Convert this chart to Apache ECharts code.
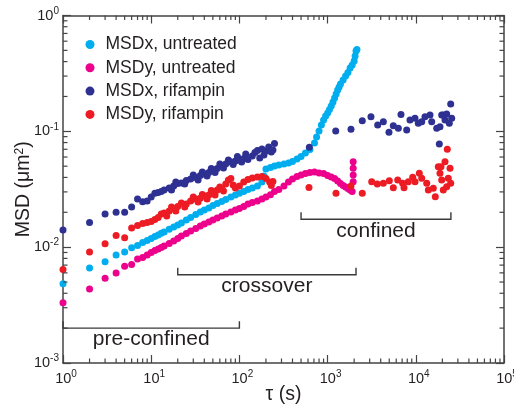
<!DOCTYPE html>
<html><head><meta charset="utf-8">
<script src="https://cdn.jsdelivr.net/npm/echarts@6/dist/echarts.min.js"></script>
<style>html,body{margin:0;padding:0;background:#fff}#c{width:514px;height:411px}</style>
</head><body><div id="c"></div>
<script>
// ---- data (tau in s, MSD in um^2) ----
const seriesNames = ['MSDx, untreated', 'MSDy, untreated', 'MSDx, rifampin', 'MSDy, rifampin'];

const tauXUntreated = [1,2,3,4,5,6,7,8,9,10,11,12,13,14,16,18,20,22,25,28,32,36,40,45,50,56,63,70,80,90,100,112,125,140,160,180,190,200,225,250,280,320,360,400,450,500,560,630,710,750,800,850,900,950,1000,1050,1100,1150,1200,1250,1300,1350,1400,1500,1600,1700,1800,1900,2000,2050,2100,2150];
const msdXUntreated = [0.00483,0.0066,0.00748,0.00855,0.00907,0.00988,0.01033,0.01096,0.0114,0.01186,0.01235,0.01273,0.01316,0.0135,0.01425,0.01492,0.01552,0.01615,0.01714,0.01802,0.01913,0.0201,0.0209,0.02178,0.02287,0.02381,0.02477,0.02578,0.02708,0.02818,0.02915,0.0302,0.0314,0.0324,0.0337,0.0365,0.0411,0.0472,0.0487,0.0501,0.0512,0.0522,0.0532,0.0548,0.0577,0.0606,0.065,0.0697,0.0793,0.0893,0.1007,0.1133,0.1253,0.1356,0.1439,0.1543,0.1653,0.1791,0.194,0.21,0.2275,0.2414,0.256,0.2773,0.3005,0.322,0.352,0.374,0.405,0.447,0.494,0.508];

const tauYUntreated = [1,2,3,4,5,6,7,8,9,10,11,12,13,14,16,18,20,22,25,28,32,36,40,45,50,56,63,70,80,90,100,112,125,140,160,180,200,225,250,280,320,360,400,450,500,560,630,710,800,900,1000,1100,1200,1300,1400,1500,1600,1700,1800,1900,1950,1950,1950,1950];
const msdYUntreated = [0.00331,0.00435,0.00538,0.00598,0.00683,0.00708,0.00789,0.00813,0.00855,0.00898,0.00935,0.00964,0.00993,0.01023,0.01075,0.01129,0.01186,0.01247,0.0131,0.01377,0.01449,0.01521,0.01584,0.01648,0.01714,0.01783,0.01857,0.01931,0.0201,0.0209,0.02162,0.02243,0.02355,0.02428,0.025,0.026,0.0271,0.0284,0.0302,0.0314,0.0337,0.0365,0.0387,0.0407,0.042,0.0432,0.0441,0.0445,0.0436,0.0432,0.0415,0.0403,0.0391,0.0372,0.0354,0.034,0.033,0.0321,0.0311,0.0302,0.0546,0.0479,0.042,0.0367];

const tauXRifampin = [1,2,3,4,5,6,7,8,9,10,11,12,13,14,16,17,18,19,20,22,24,25,28,30,32,34,36,38,40,43,45,48,50,53,56,60,63,66,70,75,80,85,90,95,100,106,112,118,125,140,150,160,170,180,190,200,215,230,240,250,
  621,1236,1842,2473,3102,3698,4285,4966,5560,6337,6795,7884,8590,9795,10670,11670,12710,14490,15150,17260,18480,18800,19660,20500,21430,22400,23990,24870,25530];
const msdXRifampin = [0.01405,0.0163,0.01931,0.02,0.02,0.0222,0.026,0.0247,0.025,0.0271,0.0292,0.0296,0.0302,0.0311,0.0324,0.0311,0.0337,0.0365,0.0354,0.0358,0.0351,0.0376,0.0387,0.042,0.0399,0.038,0.0415,0.0445,0.0428,0.0411,0.0441,0.0477,0.0463,0.0441,0.0477,0.0522,0.0501,0.0482,0.0522,0.0565,0.0543,0.0516,0.0554,0.0606,0.0565,0.0543,0.0582,0.0637,0.0571,0.0612,0.0656,0.0682,0.0588,0.0703,0.0624,0.0676,0.0731,0.0662,0.069,0.0785,
  0.0728,0.1006,0.104,0.1235,0.1337,0.1133,0.1211,0.098,0.1117,0.1061,0.14,0.1026,0.1252,0.1295,0.1173,0.1211,0.1337,0.1383,0.1211,0.1061,0.0777,0.1096,0.1383,0.1383,0.1252,0.141,0.1173,0.172,0.1295];

const tauYRifampin = [1,2,3,4,5,6,7,8,9,10,11,12,13,14,15,16,17,18,19,20,22,24,25,28,30,32,34,36,38,40,43,45,48,50,53,56,60,63,66,70,75,80,85,90,100,112,125,140,160,180,200,220,230,240,
  615,1245,1842,2473,3162,3661,4285,5010,5560,6234,7100,7350,8224,9225,9795,10960,11670,13300,13870,15790,16640,17990,18800,19300,19660,20500,21430,22400,22760,23350,24430,24870];
const msdYRifampin = [0.00643,0.00907,0.0107,0.01259,0.01205,0.01462,0.01538,0.016,0.01631,0.01663,0.0173,0.01802,0.01931,0.01971,0.01857,0.02051,0.0222,0.02153,0.0205,0.02243,0.02402,0.0222,0.02355,0.025,0.0271,0.026,0.0245,0.0265,0.0285,0.0276,0.026,0.0282,0.0308,0.0299,0.0282,0.0311,0.033,0.0321,0.0305,0.0351,0.038,0.0391,0.0344,0.0324,0.0337,0.0365,0.0384,0.0395,0.0403,0.0407,0.0391,0.0365,0.034,0.0369,
  0.0328,0.0292,0.0337,0.0292,0.0367,0.0351,0.0356,0.0374,0.0326,0.038,0.0356,0.0326,0.0367,0.0401,0.0367,0.0434,0.0393,0.0356,0.0311,0.0322,0.0272,0.0494,0.0434,0.0494,0.038,0.0311,0.0546,0.0332,0.07,0.0393,0.0479,0.0356];

// axis minor tick values
const xMinorTicks = [2,3,4,5,6,7,8,9,20,30,40,50,60,70,80,90,200,300,400,500,600,700,800,900,2000,3000,4000,5000,6000,7000,8000,9000,20000,30000,40000,50000,60000,70000,80000,90000];
const yMinorTicks = [0.002,0.003,0.004,0.005,0.006,0.007,0.008,0.009,0.02,0.03,0.04,0.05,0.06,0.07,0.08,0.09,0.2,0.3,0.4,0.5,0.6,0.7,0.8,0.9];

// regime annotations: [tau start, tau end, MSD level]
const regimeRanges = [[1,100,0.002],[20,2100,0.00578],[500,25000,0.0174]];
const regimeLabels = ['pre-confined','crossover','confined'];

// ---- chart ----
const FONT = "'Liberation Sans', Arial, Helvetica, sans-serif";
const INK = '#231f20';
const FRAME = '#444';
const colors = ['#00AEEF', '#EC008C', '#2E3192', '#ED1C24'];

function pairs(a, b) { return a.map((t, i) => [t, b[i]]); }
function powLabel(v) {
  const e = Math.round(Math.log10(v));
  return '{b|10}{s|' + e + '}';
}
const richLabel = {
  b: { fontSize: 14.5, fontFamily: FONT, color: INK },
  s: { fontSize: 10, fontFamily: FONT, color: INK, padding: [0, 0, 9, 0] }
};
const richLabelX = {
  b: { fontSize: 14.5, fontFamily: FONT, color: INK, padding: [0, 0, 0, 6] },
  s: { fontSize: 10, fontFamily: FONT, color: INK, padding: [0, 0, 9, 0] }
};

function frameAxis(extra) {
  return Object.assign({
    type: 'log', logBase: 10,
    axisLine: { show: true, onZero: false, lineStyle: { color: FRAME, width: 1.5 } },
    axisTick: { show: true, inside: true, length: 8, lineStyle: { color: FRAME, width: 1.2 } },
    splitLine: { show: false },
    minorTick: { show: false }
  }, extra);
}

const chart = echarts.init(document.getElementById('c'), null, { renderer: 'canvas' });

const scatterSeries = [
  [tauXUntreated, msdXUntreated],
  [tauYUntreated, msdYUntreated],
  [tauXRifampin, msdXRifampin],
  [tauYRifampin, msdYRifampin]
].map((d, i) => ({
  type: 'scatter', name: seriesNames[i], data: pairs(d[0], d[1]),
  symbol: 'circle', symbolSize: 7, clip: false, z: 2 + i,
  itemStyle: { color: colors[i], opacity: 1 },
  emphasis: { disabled: true }
}));

const tickStyle = { stroke: FRAME, lineWidth: 1.2 };
const minorLen = 4.5;

const option = {
  animation: false,
  backgroundColor: '#fff',
  textStyle: { fontFamily: FONT },
  grid: { left: 63, right: 10, top: 15.5, bottom: 48, containLabel: false, outerBoundsMode: 'none' },
  legend: {
    data: seriesNames, orient: 'vertical', left: 80.5, top: 30.5,
    itemWidth: 9, itemHeight: 9, itemGap: 5.3, icon: 'circle', selectedMode: false,
    textStyle: { fontSize: 17.5, color: INK, fontFamily: FONT, padding: [0, 0, 0, 6], lineHeight: 18 }
  },
  xAxis: [
    frameAxis({
      position: 'bottom', min: 1, max: 100000,
      axisLabel: { formatter: powLabel, rich: richLabelX, margin: 6 },
      name: 'τ (s)', nameLocation: 'middle', nameGap: 22, nameMoveOverlap: false,
      nameTextStyle: { fontSize: 19.5, color: INK, fontFamily: FONT }
    }),
    frameAxis({ position: 'top', min: 1, max: 100000, axisLabel: { show: false } })
  ],
  yAxis: [
    frameAxis({
      position: 'left', min: 0.001, max: 1,
      axisLabel: { formatter: powLabel, rich: richLabel, margin: 4 },
      name: 'MSD (μm{s|2})', nameLocation: 'middle', nameGap: 29, nameMoveOverlap: false,
      nameTextStyle: { fontSize: 19.5, color: INK, fontFamily: FONT,
        rich: { s: { fontSize: 12, fontFamily: FONT, color: INK, padding: [0, 0, 8, 0] } } }
    }),
    frameAxis({ position: 'right', min: 0.001, max: 1, axisLabel: { show: false } })
  ],
  series: [
    ...scatterSeries,
    {
      type: 'custom', name: 'xMinor', silent: true, z: 10, clip: false,
      data: xMinorTicks.map(v => [v, 0.01]),
      renderItem(params, api) {
        const cs = params.coordSys;
        const x = api.coord([api.value(0), api.value(1)])[0];
        const b = cs.y + cs.height, t = cs.y;
        return { type: 'group', children: [
          { type: 'line', shape: { x1: x, y1: b, x2: x, y2: b - minorLen }, style: tickStyle },
          { type: 'line', shape: { x1: x, y1: t, x2: x, y2: t + minorLen }, style: tickStyle }
        ] };
      }
    },
    {
      type: 'custom', name: 'yMinor', silent: true, z: 10, clip: false,
      data: yMinorTicks.map(v => [10, v]),
      renderItem(params, api) {
        const cs = params.coordSys;
        const y = api.coord([api.value(0), api.value(1)])[1];
        const l = cs.x, r = cs.x + cs.width;
        return { type: 'group', children: [
          { type: 'line', shape: { x1: l, y1: y, x2: l + minorLen, y2: y }, style: tickStyle },
          { type: 'line', shape: { x1: r, y1: y, x2: r - minorLen, y2: y }, style: tickStyle }
        ] };
      }
    },
    {
      type: 'custom', name: 'regimes', silent: true, z: 11, clip: false,
      encode: { x: [0, 1], y: 2 },
      data: regimeRanges,
      renderItem(params, api) {
        const p1 = api.coord([api.value(0), api.value(2)]);
        const p2 = api.coord([api.value(1), api.value(2)]);
        const y = p1[1];
        return { type: 'group', children: [
          { type: 'polyline', shape: { points: [[p1[0], y - 7], [p1[0], y], [p2[0], y], [p2[0], y - 7]] },
            style: { stroke: '#3a3a3a', lineWidth: 1.4, fill: null } },
          { type: 'text', x: (p1[0] + p2[0]) / 2, y: y + 1,
            style: { text: regimeLabels[params.dataIndex], fontSize: 21, fontFamily: FONT, fill: INK,
              align: 'center', verticalAlign: 'top' } }
        ] };
      }
    }
  ]
};
chart.setOption(option);
</script>
</body></html>
